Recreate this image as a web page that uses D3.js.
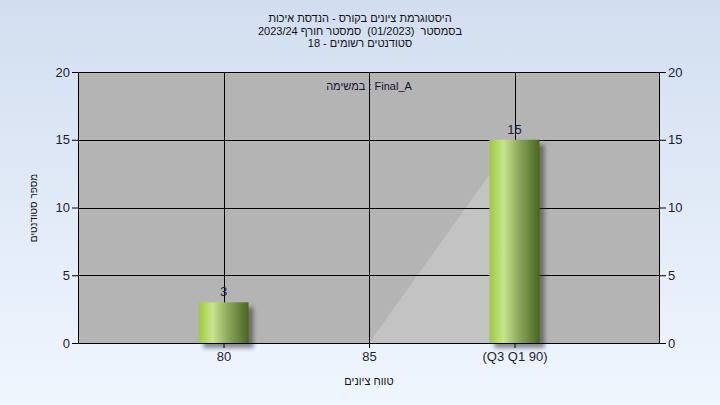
<!DOCTYPE html>
<html><head><meta charset="utf-8">
<script src="https://cdn.jsdelivr.net/npm/d3@7"></script>
<style>body{margin:0;}svg{display:block;font-family:"Liberation Sans",Arial,sans-serif;}</style>
</head><body>
<svg id="c" width="720" height="405"></svg>
<script>
const categories = ["80", "85", "(Q3 Q1 90)"];
const counts = [3, 0, 15];
const areaValues = [0, 0, 15];
const yTicks = [0, 5, 10, 15, 20];
const titleLines = ["היסטוגרמת ציונים בקורס - הנדסת איכות", "בסמסטר  (01/2023)  סמסטר חורף 2023/24", "סטודנטים רשומים - 18"];
const taskLabel = "במשימה : Final_A";
const xTitle = "טווח ציונים";
const yTitle = "מספר סטודנטים";

const svg = d3.select("#c");
const L = 78, R = 660, T = 72, B = 343;
const defs = svg.append("defs");
const bg = defs.append("linearGradient").attr("id","bg").attr("x1",0).attr("y1",0).attr("x2",0).attr("y2",1);
bg.append("stop").attr("offset","0%").attr("stop-color","#d2def0");
bg.append("stop").attr("offset","100%").attr("stop-color","#f0f6fe");
const bar = defs.append("linearGradient").attr("id","bar").attr("x1",0).attr("y1",0).attr("x2",1).attr("y2",0);
bar.append("stop").attr("offset","0%").attr("stop-color","#9ccb3c");
bar.append("stop").attr("offset","28%").attr("stop-color","#c9e48e");
bar.append("stop").attr("offset","60%").attr("stop-color","#8aa65a");
bar.append("stop").attr("offset","100%").attr("stop-color","#4a6424");
const f = defs.append("filter").attr("id","sh").attr("x","-20%").attr("y","-20%").attr("width","150%").attr("height","150%");
f.append("feGaussianBlur").attr("stdDeviation",2);

svg.append("rect").attr("width",720).attr("height",405).attr("fill","url(#bg)");

const x = d3.scalePoint().domain(categories).range([L, R]).padding(1);
const y = d3.scaleLinear().domain([0, 20]).range([B, T]);

svg.append("rect").attr("x",L).attr("y",T).attr("width",R-L).attr("height",B-T).attr("fill","#b4b4b4");

// light area
const area = d3.area().x((d,i)=>x(categories[i])).y0(y(0)).y1(d=>y(d));
svg.append("path").datum(areaValues).attr("d",area).attr("fill","#c3c3c3");

// grid
const grid = svg.append("g").attr("stroke","#000").attr("stroke-width",1);
yTicks.slice(1,-1).forEach(t=>grid.append("line").attr("x1",L).attr("x2",R).attr("y1",Math.round(y(t))+0.5).attr("y2",Math.round(y(t))+0.5));
categories.forEach(c=>grid.append("line").attr("x1",Math.round(x(c))+0.5).attr("x2",Math.round(x(c))+0.5).attr("y1",T).attr("y2",B));

// bars
const bw = 50;
const bars = categories.map((c,i)=>({c, v: counts[i]})).filter(d=>d.v>0);
svg.append("g").selectAll("rect").data(bars).join("rect")
  .attr("x",d=>x(d.c)-bw/2+5).attr("y",d=>y(d.v)+5).attr("width",bw).attr("height",d=>y(0)-y(d.v))
  .attr("fill","#333").attr("opacity",0.55).attr("filter","url(#sh)");
svg.append("g").selectAll("rect").data(bars).join("rect")
  .attr("x",d=>x(d.c)-bw/2).attr("y",d=>y(d.v)).attr("width",bw).attr("height",d=>y(0)-y(d.v))
  .attr("fill","url(#bar)");

// border
svg.append("rect").attr("x",L+0.5).attr("y",T+0.5).attr("width",R-L-1).attr("height",B-T).attr("fill","none").attr("stroke","#000");

// axes
const tc = "#1c1c3a";
const ax = (g)=>{g.selectAll(".domain").remove(); g.selectAll("text").attr("fill",tc).style("font-size","13px").style("font-family","Liberation Sans, Arial"); g.selectAll("line").attr("stroke","#000");};
svg.append("g").attr("transform",`translate(${L},0)`).call(d3.axisLeft(y).tickValues(yTicks).tickSize(6).tickPadding(2)).call(ax);
svg.append("g").attr("transform",`translate(${R},0)`).call(d3.axisRight(y).tickValues(yTicks).tickSize(6).tickPadding(2)).call(ax);
svg.append("g").attr("transform",`translate(0,${B})`).call(d3.axisBottom(x).tickSize(5).tickPadding(4)).call(ax);

// value labels
svg.append("g").selectAll("text").data(bars).join("text")
  .attr("x",d=>x(d.c)).attr("y",d=>y(d.v)-6).attr("text-anchor","middle").attr("fill",tc).style("font-size","13px").text(d=>d.v);

// titles
svg.append("g").selectAll("text").data(titleLines).join("text")
  .attr("x",360).attr("y",(d,i)=>22+i*12.5).attr("text-anchor","middle").attr("direction","rtl").style("unicode-bidi","embed")
  .style("white-space","pre").attr("fill","#111").style("font-size","11px").text(d=>d);
svg.append("text").attr("x",369).attr("y",90).attr("text-anchor","middle").attr("fill","#1a1030").style("font-size","11px").style("white-space","pre").text(taskLabel);
svg.append("text").attr("x",369).attr("y",385).attr("text-anchor","middle").attr("direction","rtl").style("unicode-bidi","embed").attr("fill","#111").style("font-size","11px").text(xTitle);
svg.append("text").attr("transform","translate(37,208) rotate(-90)").attr("text-anchor","middle").attr("direction","rtl").style("unicode-bidi","embed").attr("fill","#111").style("font-size","10px").text(yTitle);
</script>
</body></html>
